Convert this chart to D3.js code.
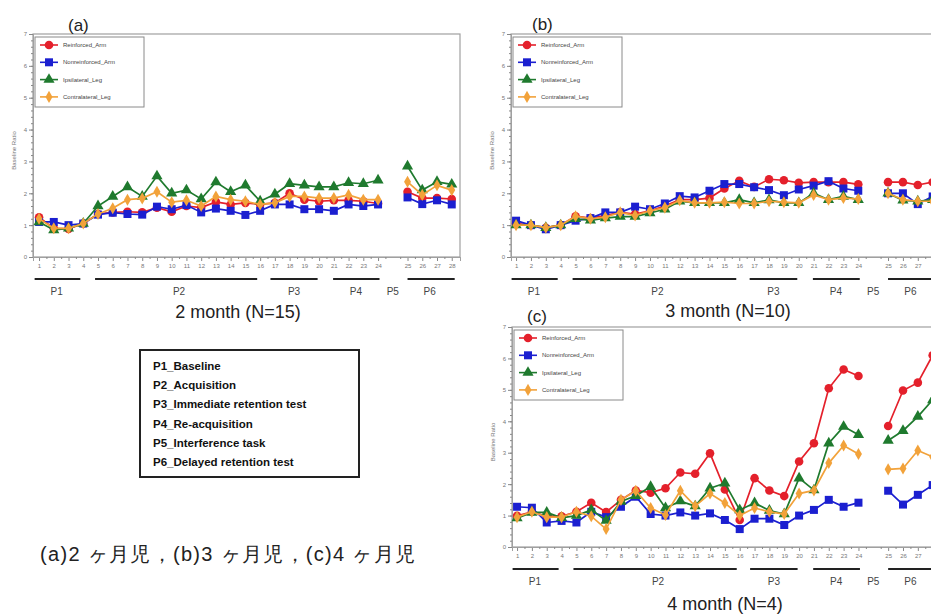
<!DOCTYPE html>
<html lang="ja">
<head>
<meta charset="UTF-8">
<title>Baseline ratio by session</title>
<script src="https://d3js.org/d3.v7.min.js"></script>
<style>
  body { margin: 0; background: #fff; }
  text { font-family: "Liberation Sans", Arial, sans-serif; }
</style>
</head>
<body>
<svg id="chart" width="931" height="614"></svg>
<script>
// sessions and tick labels
const sessions = [1, 2, 3, 4, 5, 6, 7, 8, 9, 10, 11, 12, 13, 14, 15, 16, 17, 18, 19, 20, 21, 22, 23, 24, 25, 26, 27, 28];
const yTicks = [0, 1, 2, 3, 4, 5, 6, 7];
const seriesNames = ["Reinforced_Arm", "Nonreinforced_Arm", "Ipsilateral_Leg", "Contralateral_Leg"];

// phases (in session units)
const phaseNames = ["P1", "P2", "P3", "P4", "P5", "P6"];
const phaseStart = [0.7, 4.8, 16.7, 20.95, null, 26.0];
const phaseEnd = [3.8, 15.8, 19.9, 24.1, null, 29.2];
const phaseLabelAt = [2.2, 10.5, 18.3, 22.5, 25, 27.5];
const phaseDescriptions = [
  "P1_Baseline",
  "P2_Acquisition",
  "P3_Immediate retention test",
  "P4_Re-acquisition",
  "P5_Interference task",
  "P6_Delayed retention test"
];

// (a) 2 month
const m2Reinforced    = [1.25, 0.9, 0.88, 1.05, 1.35, 1.4, 1.42, 1.4, 1.55, 1.42, 1.6, 1.55, 1.73, 1.65, 1.7, 1.65, 1.7, 2.0, 1.8, 1.75, 1.78, 1.78, 1.75, 1.68, 2.05, 1.85, 1.85, 1.82];
const m2Nonreinforced = [1.1, 1.1, 1.0, 1.05, 1.33, 1.39, 1.35, 1.33, 1.58, 1.5, 1.63, 1.4, 1.52, 1.45, 1.32, 1.45, 1.65, 1.65, 1.5, 1.5, 1.45, 1.65, 1.6, 1.65, 1.87, 1.66, 1.78, 1.65];
const m2Ipsilateral   = [1.1, 0.85, 0.9, 1.05, 1.6, 1.9, 2.2, 1.9, 2.54, 2.0, 2.1, 1.82, 2.35, 2.05, 2.25, 1.75, 1.97, 2.3, 2.25, 2.2, 2.2, 2.33, 2.3, 2.41, 2.85, 2.1, 2.36, 2.28];
const m2Contralateral = [1.2, 0.9, 0.9, 1.05, 1.35, 1.53, 1.8, 1.84, 2.05, 1.72, 1.78, 1.6, 1.9, 1.8, 1.75, 1.65, 1.7, 1.9, 1.9, 1.85, 1.85, 1.95, 1.8, 1.8, 2.36, 1.95, 2.25, 2.1];

// (b) 3 month
const m3Reinforced    = [1.05, 1.0, 0.92, 1.0, 1.28, 1.22, 1.3, 1.4, 1.35, 1.45, 1.6, 1.8, 1.8, 1.85, 2.15, 2.39, 2.2, 2.44, 2.41, 2.33, 2.35, 2.35, 2.35, 2.28, 2.35, 2.35, 2.26, 2.35];
const m3Nonreinforced = [1.14, 1.0, 0.87, 1.0, 1.14, 1.22, 1.4, 1.4, 1.58, 1.5, 1.68, 1.91, 1.87, 2.08, 2.29, 2.29, 2.19, 2.1, 1.94, 2.12, 2.24, 2.38, 2.15, 2.08, 2.0, 2.0, 1.66, 1.9];
const m3Ipsilateral   = [1.0, 1.0, 0.92, 1.0, 1.2, 1.15, 1.22, 1.27, 1.27, 1.38, 1.5, 1.75, 1.7, 1.7, 1.7, 1.8, 1.7, 1.79, 1.7, 1.7, 2.0, 1.8, 1.9, 1.8, 2.0, 1.78, 1.75, 1.8];
const m3Contralateral = [1.0, 1.0, 0.92, 1.0, 1.28, 1.2, 1.25, 1.4, 1.3, 1.45, 1.55, 1.78, 1.7, 1.7, 1.72, 1.68, 1.68, 1.75, 1.72, 1.7, 1.95, 1.8, 1.85, 1.82, 2.0, 1.8, 1.75, 1.75];

// (c) 4 month
const m4Reinforced    = [0.99, 1.12, 0.98, 0.98, 1.12, 1.41, 1.11, 1.5, 1.8, 1.73, 1.87, 2.37, 2.33, 2.98, 1.83, 0.86, 2.19, 1.8, 1.62, 2.72, 3.3, 5.05, 5.65, 5.44, 3.85, 4.98, 5.23, 6.1];
const m4Nonreinforced = [1.28, 1.25, 0.78, 0.83, 0.78, 1.12, 0.95, 1.28, 1.6, 1.05, 1.0, 1.1, 1.0, 1.07, 0.86, 0.57, 0.9, 0.9, 0.7, 1.0, 1.18, 1.5, 1.28, 1.41, 1.79, 1.35, 1.66, 1.97];
const m4Ipsilateral   = [0.92, 1.1, 1.1, 0.93, 1.0, 1.18, 0.84, 1.45, 1.63, 1.92, 1.24, 1.46, 1.3, 1.87, 2.03, 1.18, 1.4, 1.16, 1.05, 2.19, 1.81, 3.3, 3.83, 3.57, 3.39, 3.7, 4.15, 4.68];
const m4Contralateral = [0.95, 1.12, 0.95, 0.95, 1.12, 0.98, 0.57, 1.5, 1.79, 1.24, 1.02, 1.79, 1.3, 1.7, 1.4, 1.0, 1.24, 1.12, 1.05, 1.7, 1.8, 2.67, 3.23, 2.96, 2.47, 2.5, 3.07, 2.87];

const colors = ["#e4202b", "#1b1fd0", "#1f7a2e", "#f2a23a"];
const symbols = [d3.symbolCircle, d3.symbolSquare, d3.symbolTriangle, d3.symbolDiamond];
const symbolSizes = [58, 64, 54, 42];

const svg = d3.select("#chart");

// session 25+ is shifted one slot right (P5 gap)
const slot = s => (s <= 24 ? s : s + 1);

function drawPanel(p) {
  const g = svg.append("g");
  const x = d3.scaleLinear().domain([p.x0, 29.56]).range([p.left, p.right]);
  const y = d3.scaleLinear().domain([0, 7]).range([p.bottom, p.top]);

  // frame
  g.append("rect")
    .attr("x", p.left).attr("y", p.top)
    .attr("width", p.right - p.left).attr("height", p.bottom - p.top)
    .attr("fill", "none").attr("stroke", "#a0a0a0").attr("stroke-width", 1.2);

  // y axis
  const yAxis = d3.axisLeft(y).tickValues(yTicks).tickSize(4).tickPadding(2).tickFormat(d3.format("d"));
  g.append("g").attr("transform", `translate(${p.left},0)`).call(yAxis);
  const yMinor = d3.axisLeft(y).tickValues(d3.range(0, 7.01, 0.2)).tickSize(2).tickFormat("");
  g.append("g").attr("transform", `translate(${p.left},0)`).call(yMinor);

  // x axis (last label may run off the page, as in the original)
  const shown = sessions.filter(s => x(slot(s)) < 924);
  const xAxis = d3.axisBottom(x).tickValues(sessions.map(slot)).tickSize(4).tickPadding(3)
    .tickFormat((d, i) => (shown.includes(sessions[i]) ? sessions[i] : ""));
  g.append("g").attr("transform", `translate(0,${p.bottom})`).call(xAxis);
  const xMinor = d3.axisBottom(x).tickValues(d3.range(1.5, 29.1, 1)).tickSize(2).tickFormat("");
  g.append("g").attr("transform", `translate(0,${p.bottom})`).call(xMinor);

  g.selectAll(".domain").attr("stroke", "#a0a0a0");
  g.selectAll(".tick line").attr("stroke", "#888");
  g.selectAll(".tick text").attr("fill", "#777").attr("font-size", 6);

  // y label
  g.append("text")
    .attr("transform", `translate(${p.left - 17},${(p.top + p.bottom) / 2 + 5}) rotate(-90)`)
    .attr("text-anchor", "middle").attr("font-size", 6).attr("fill", "#777")
    .text("Baseline Ratio");

  // series
  const line = d3.line().x(d => x(slot(d.s))).y(d => y(d.v));
  p.series.forEach((vals, k) => {
    const pts = sessions.map((s, i) => ({ s, v: vals[i] }));
    const parts = [pts.filter(d => d.s <= 24), pts.filter(d => d.s >= 25)];
    parts.forEach(part => {
      g.append("path").datum(part)
        .attr("d", line).attr("fill", "none")
        .attr("stroke", colors[k]).attr("stroke-width", 1.7);
    });
    g.selectAll(null).data(pts).enter().append("path")
      .attr("transform", d => `translate(${x(slot(d.s))},${y(d.v)})`)
      .attr("d", d3.symbol().type(symbols[k]).size(symbolSizes[k]))
      .attr("fill", colors[k]);
  });

  // legend
  const lg = g.append("g");
  lg.append("rect")
    .attr("x", p.left + 2).attr("y", p.top + 3)
    .attr("width", 109).attr("height", 70)
    .attr("fill", "#fff").attr("stroke", "#8a8a8a").attr("stroke-width", 1);
  seriesNames.forEach((name, k) => {
    const ly = p.top + 11 + k * 17.3;
    lg.append("line")
      .attr("x1", p.left + 7).attr("x2", p.left + 25)
      .attr("y1", ly).attr("y2", ly)
      .attr("stroke", colors[k]).attr("stroke-width", 1.6);
    lg.append("path")
      .attr("transform", `translate(${p.left + 16},${ly})`)
      .attr("d", d3.symbol().type(symbols[k]).size(symbolSizes[k]))
      .attr("fill", colors[k]);
    lg.append("text")
      .attr("x", p.left + 30).attr("y", ly + 2)
      .attr("font-size", 6).attr("fill", "#444")
      .text(name);
  });

  // phase bars and labels
  const py = p.bottom + 22;
  phaseNames.forEach((name, i) => {
    if (phaseStart[i] !== null) {
      g.append("line")
        .attr("x1", x(phaseStart[i])).attr("x2", x(phaseEnd[i]))
        .attr("y1", py).attr("y2", py)
        .attr("stroke", "#222").attr("stroke-width", 2);
    }
    g.append("text")
      .attr("x", x(phaseLabelAt[i])).attr("y", py + 16)
      .attr("text-anchor", "middle").attr("font-size", 10).attr("fill", "#444")
      .text(name);
  });

  // captions
  g.append("text")
    .attr("x", p.captionX).attr("y", p.captionY)
    .attr("text-anchor", "middle").attr("font-size", 18).attr("fill", "#222")
    .text(p.caption);
  g.append("text")
    .attr("x", p.labelX).attr("y", p.labelY)
    .attr("font-size", 17).attr("fill", "#222")
    .text(p.label);
}

drawPanel({
  left: 33, right: 460, top: 34, bottom: 257, x0: 0.59,
  series: [m2Reinforced, m2Nonreinforced, m2Ipsilateral, m2Contralateral],
  caption: "2 month (N=15)", captionX: 238, captionY: 318,
  label: "(a)", labelX: 68, labelY: 31
});
drawPanel({
  left: 511, right: 941, top: 34, bottom: 257, x0: 0.66,
  series: [m3Reinforced, m3Nonreinforced, m3Ipsilateral, m3Contralateral],
  caption: "3 month (N=10)", captionX: 728, captionY: 317,
  label: "(b)", labelX: 532, labelY: 30
});
drawPanel({
  left: 512, right: 941, top: 327, bottom: 547, x0: 0.66,
  series: [m4Reinforced, m4Nonreinforced, m4Ipsilateral, m4Contralateral],
  caption: "4 month (N=4)", captionX: 725, captionY: 610,
  label: "(c)", labelX: 527, labelY: 322
});

// phase description box
const box = svg.append("g");
box.append("rect")
  .attr("x", 140).attr("y", 350).attr("width", 219).attr("height", 127)
  .attr("fill", "#fff").attr("stroke", "#222").attr("stroke-width", 2);
phaseDescriptions.forEach((t, i) => {
  box.append("text")
    .attr("x", 153).attr("y", 370 + i * 19.2)
    .attr("font-size", 11.5).attr("font-weight", "bold").attr("fill", "#111")
    .text(t);
});

// Japanese caption, spread to the same width as the original
svg.append("text")
  .attr("x", 40).attr("y", 561)
  .attr("font-family", "'Noto Sans CJK JP', sans-serif")
  .attr("font-size", 20).attr("fill", "#222")
  .attr("textLength", 375).attr("lengthAdjust", "spacing")
  .text("(a)2 ヶ月児，(b)3 ヶ月児，(c)4 ヶ月児");
</script>
</body>
</html>
